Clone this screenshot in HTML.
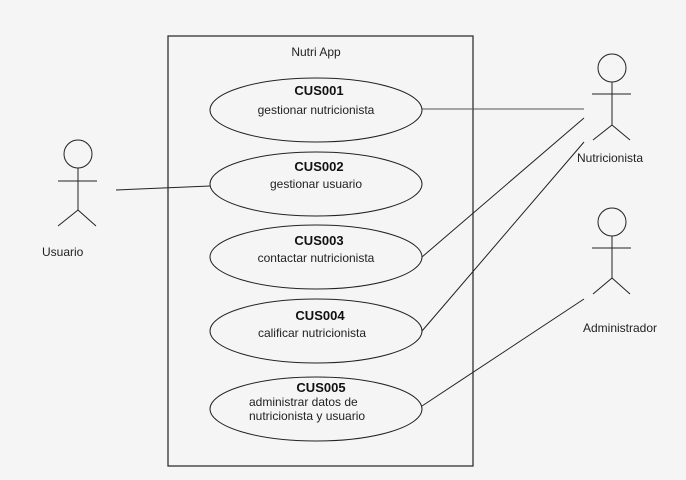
<!DOCTYPE html>
<html><head><style>
html,body{margin:0;padding:0;background:#f5f5f5;}
svg{display:block;}
text{font-family:"Liberation Sans",sans-serif;font-size:12px;fill:#222;}
.b{font-weight:bold;font-size:13px;fill:#111;}
</style></head><body>
<svg width="686" height="480" viewBox="0 0 686 480">
<rect x="0" y="0" width="686" height="480" fill="#f5f5f5"/>
<rect x="168" y="36" width="305" height="430" fill="none" stroke="#222" stroke-width="1.2"/>
<text x="316" y="56" text-anchor="middle">Nutri App</text>
<g fill="none" stroke="#222" stroke-width="1">
<ellipse cx="316" cy="110" rx="106" ry="32"/>
<ellipse cx="316" cy="184" rx="106" ry="32"/>
<ellipse cx="316" cy="257" rx="106" ry="32"/>
<ellipse cx="316" cy="331" rx="106" ry="32"/>
<ellipse cx="316" cy="409" rx="106" ry="32"/>
<line x1="422" y1="109" x2="584" y2="109" stroke="#555"/>
<line x1="116" y1="190" x2="210" y2="186"/>
<line x1="422" y1="257" x2="584" y2="118"/>
<line x1="422" y1="331" x2="584" y2="142"/>
<line x1="422" y1="406" x2="584" y2="299"/>
<circle cx="78" cy="154" r="14"/>
<line x1="78" y1="168" x2="78" y2="210"/>
<line x1="58" y1="181" x2="97" y2="181"/>
<line x1="78" y1="210" x2="58" y2="226"/>
<line x1="78" y1="210" x2="96" y2="226"/>
<circle cx="612" cy="68" r="14"/>
<line x1="612" y1="82" x2="612" y2="125"/>
<line x1="592" y1="94" x2="631" y2="94"/>
<line x1="612" y1="125" x2="593" y2="140"/>
<line x1="612" y1="125" x2="630" y2="140"/>
<circle cx="612" cy="222" r="14"/>
<line x1="612" y1="236" x2="612" y2="278"/>
<line x1="592" y1="248" x2="631" y2="248"/>
<line x1="612" y1="278" x2="593" y2="294"/>
<line x1="612" y1="278" x2="630" y2="294"/>
</g>
<text x="42" y="256">Usuario</text>
<text x="577" y="162">Nutricionista</text>
<text x="583" y="332">Administrador</text>
<text class="b" x="319" y="95" text-anchor="middle">CUS001</text>
<text x="316" y="114" text-anchor="middle">gestionar nutricionista</text>
<text class="b" x="319" y="171" text-anchor="middle">CUS002</text>
<text x="316" y="188" text-anchor="middle">gestionar usuario</text>
<text class="b" x="319" y="245" text-anchor="middle">CUS003</text>
<text x="316" y="262" text-anchor="middle">contactar nutricionista</text>
<text class="b" x="320" y="320" text-anchor="middle">CUS004</text>
<text x="312" y="337" text-anchor="middle">calificar nutricionista</text>
<text class="b" x="321" y="392" text-anchor="middle">CUS005</text>
<text x="249" y="406">administrar datos de</text>
<text x="249" y="420">nutricionista y usuario</text>
</svg>
</body></html>
